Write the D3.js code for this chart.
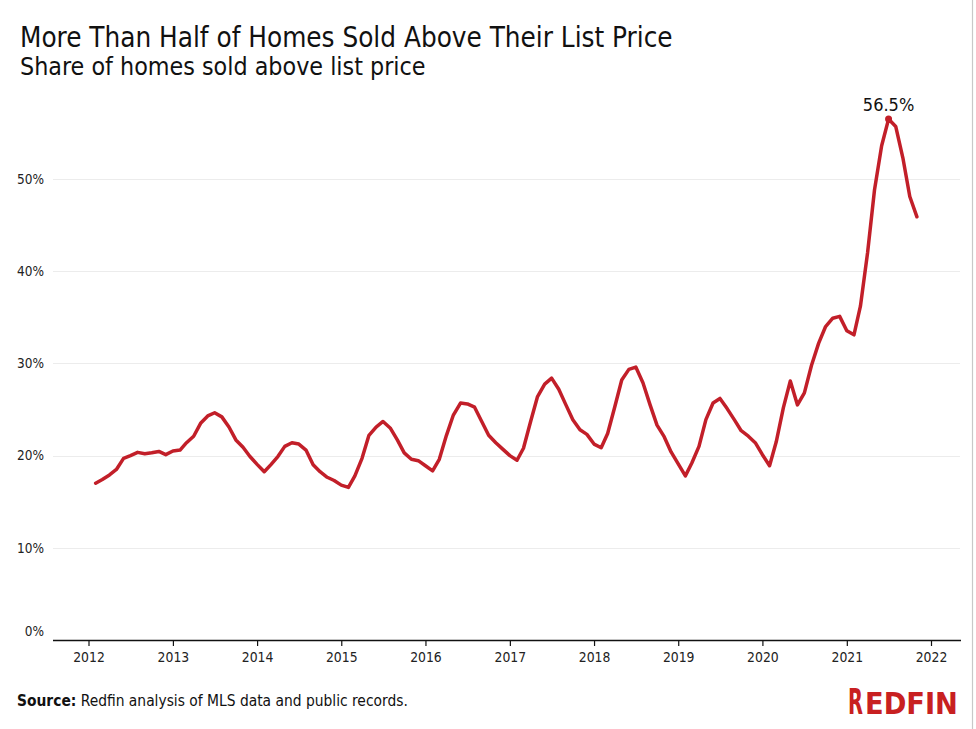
<!DOCTYPE html>
<html><head><meta charset="utf-8">
<script src="https://cdn.jsdelivr.net/npm/d3@7"></script>
<style>
html,body{margin:0;padding:0;background:#fff;}
svg{display:block;}
text{font-family:"DejaVu Sans Condensed","DejaVu Sans",sans-serif;}
</style></head>
<body>
<svg id="chart" width="976" height="729"></svg>
<script>
// ---- data ----
const title = "More Than Half of Homes Sold Above Their List Price";
const subtitle = "Share of homes sold above list price";
const firstMonth = "2012-02";
const lastMonth = "2021-11";
const share = [
  // 2012 (Feb-Dec)
  17.0, 17.4, 17.9, 18.5, 19.7, 20.0, 20.35, 20.2, 20.3, 20.45, 20.1,
  // 2013
  20.5, 20.6, 21.4, 22.1, 23.5, 24.3, 24.65, 24.2, 23.1, 21.7, 20.9, 19.9,
  // 2014
  19.05, 18.25, 19.0, 19.9, 21.0, 21.4, 21.25, 20.6, 19.0, 18.25, 17.65, 17.3,
  // 2015
  16.8, 16.55, 17.8, 19.7, 22.2, 23.1, 23.7, 23.0, 21.7, 20.3, 19.6, 19.45,
  // 2016
  18.9, 18.35, 19.6, 22.2, 24.4, 25.7, 25.6, 25.25, 23.7, 22.2, 21.4, 20.7,
  // 2017
  20.0, 19.5, 20.8, 23.7, 26.4, 27.75, 28.4, 27.2, 25.5, 23.9, 22.8, 22.3,
  // 2018
  21.25, 20.85, 22.4, 25.3, 28.2, 29.35, 29.6, 27.9, 25.5, 23.3, 22.05, 20.4,
  // 2019
  19.1, 17.8, 19.2, 21.0, 23.9, 25.7, 26.2, 25.1, 23.9, 22.7, 22.1, 21.4,
  // 2020
  20.1, 18.9, 21.5, 25.2, 28.1, 25.5, 26.8, 29.8, 32.2, 34.0, 34.9, 35.1,
  // 2021 (Jan-Nov)
  33.55, 33.1, 36.2, 42.0, 48.8, 53.6, 56.5, 55.7, 52.3, 48.1, 45.9
];
const yTicks = [0, 10, 20, 30, 40, 50];
const xTickYears = [2012, 2013, 2014, 2015, 2016, 2017, 2018, 2019, 2020, 2021, 2022];
const peakLabel = "56.5%";
const sourceLabel = "Source:";
const sourceText = " Redfin analysis of MLS data and public records.";
const logoFirst = "R";
const logoRest = "EDFIN";

// ---- build ----
const parseMonth = d3.timeParse("%Y-%m");
const months = d3.timeMonth.range(parseMonth(firstMonth), d3.timeMonth.offset(parseMonth(lastMonth), 1));
const data = months.map((d, i) => ({date: d, value: share[i]}));

const svg = d3.select("#chart");
const red = "#c21f29";

const x = d3.scaleTime()
  .domain([new Date(2012, 0, 1), new Date(2022, 0, 1)])
  .range([88.5, 931]);
const y = d3.scaleLinear().domain([0, 60]).range([640, 86.8]);

// right border
svg.append("line").attr("x1", 972.5).attr("x2", 972.5).attr("y1", 0).attr("y2", 729)
  .attr("stroke", "#c8c8c8").attr("stroke-width", 1.2);

// titles
svg.append("text").attr("x", 20).attr("y", 47).attr("font-size", 27.6).attr("fill", "#111").text(title);
svg.append("text").attr("x", 20).attr("y", 75).attr("font-size", 24.8).attr("fill", "#111").text(subtitle);

// gridlines
svg.append("g").selectAll("line").data(yTicks.filter(t => t > 0)).join("line")
  .attr("x1", 53).attr("x2", 960)
  .attr("y1", d => Math.round(y(d)) + 0.5).attr("y2", d => Math.round(y(d)) + 0.5)
  .attr("stroke", "#ececec").attr("stroke-width", 1);

// y labels
svg.append("g").selectAll("text").data(yTicks).join("text")
  .attr("x", 44).attr("y", d => d === 0 ? y(d) - 9 : y(d))
  .attr("dy", "0.35em").attr("text-anchor", "end")
  .attr("font-size", 13.5).attr("fill", "#222")
  .text(d => d + "%");

// x axis
const xAxis = d3.axisBottom(x)
  .tickValues(xTickYears.map(yr => new Date(yr, 0, 1)))
  .tickFormat(d3.timeFormat("%Y"))
  .tickSize(6).tickPadding(6);
const gx = svg.append("g").attr("transform", "translate(0,640)").call(xAxis);
gx.select(".domain").remove();
gx.selectAll(".tick line").attr("stroke", "#111").attr("stroke-width", 1.2);
gx.selectAll(".tick text").attr("font-family", '"DejaVu Sans Condensed","DejaVu Sans",sans-serif')
  .attr("font-size", 13.8).attr("fill", "#222");
svg.append("line").attr("x1", 53).attr("x2", 961).attr("y1", 640.5).attr("y2", 640.5)
  .attr("stroke", "#111").attr("stroke-width", 1.5);

// line
const line = d3.line().x(d => x(d.date)).y(d => y(d.value));
svg.append("path").datum(data).attr("d", line)
  .attr("fill", "none").attr("stroke", red).attr("stroke-width", 3.5)
  .attr("stroke-linejoin", "round").attr("stroke-linecap", "round");

// peak
const peak = data.reduce((a, b) => (b.value > a.value ? b : a));
svg.append("circle").attr("cx", x(peak.date)).attr("cy", y(peak.value)).attr("r", 3.5).attr("fill", red);
svg.append("text").attr("x", x(peak.date)).attr("y", y(peak.value) - 8)
  .attr("text-anchor", "middle").attr("font-size", 18).attr("fill", "#111").text(peakLabel);

// footer
const src = svg.append("text").attr("x", 17).attr("y", 706).attr("font-size", 15.4).attr("fill", "#111");
src.append("tspan").attr("font-weight", "bold").text(sourceLabel);
src.append("tspan").text(sourceText);

// logo (scaled horizontally to fit)
function logoPart(txt, left, width, size) {
  const g = svg.append("g");
  const t = g.append("text").attr("x", 0).attr("y", 0)
    .attr("font-weight", "bold").attr("fill", "#c82021").attr("font-size", size).text(txt);
  const w = t.node().getComputedTextLength();
  g.attr("transform", `translate(${left},713.5) scale(${width / w},1)`);
}
logoPart(logoFirst, 848, 15, 35);
logoPart(logoRest, 865, 93, 30);
</script>
</body></html>
